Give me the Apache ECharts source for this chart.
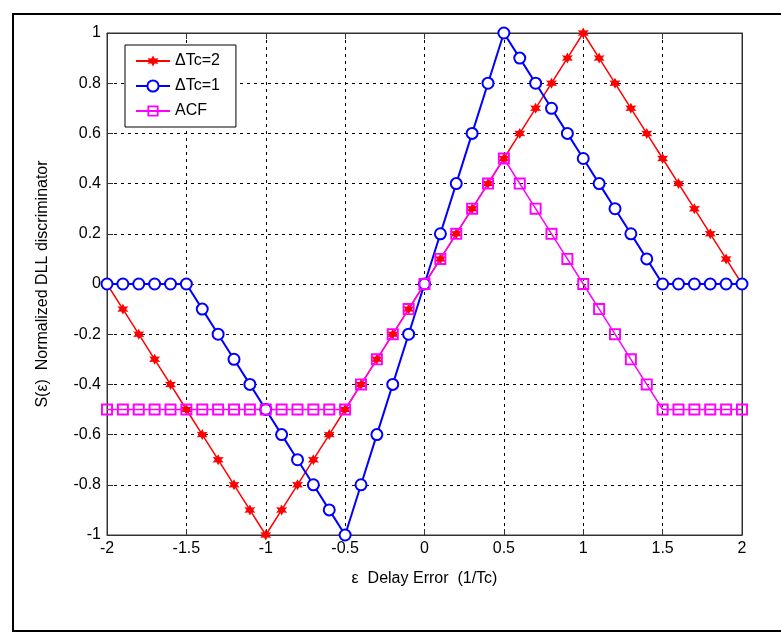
<!DOCTYPE html>
<html>
<head>
<meta charset="utf-8">
<script src="https://cdn.jsdelivr.net/npm/echarts@6/dist/echarts.min.js"></script>
<style>
  html, body { margin: 0; padding: 0; background: #fff; }
  #chart { width: 781px; height: 632px; }
</style>
</head>
<body>
<div id="chart"></div>
<script>
// delay error (1/Tc)
const xs = [-2, -1.9, -1.8, -1.7, -1.6, -1.5, -1.4, -1.3, -1.2, -1.1, -1, -0.9, -0.8, -0.7, -0.6, -0.5, -0.4, -0.3, -0.2, -0.1,
  0, 0.1, 0.2, 0.3, 0.4, 0.5, 0.6, 0.7, 0.8, 0.9, 1, 1.1, 1.2, 1.3, 1.4, 1.5, 1.6, 1.7, 1.8, 1.9, 2]
const dtc2 = [0, -0.1, -0.2, -0.3, -0.4, -0.5, -0.6, -0.7, -0.8, -0.9, -1, -0.9, -0.8, -0.7, -0.6, -0.5, -0.4, -0.3, -0.2, -0.1,
  0, 0.1, 0.2, 0.3, 0.4, 0.5, 0.6, 0.7, 0.8, 0.9, 1, 0.9, 0.8, 0.7, 0.6, 0.5, 0.4, 0.3, 0.2, 0.1, 0]
const dtc1 = [0, 0, 0, 0, 0, 0, -0.1, -0.2, -0.3, -0.4, -0.5, -0.6, -0.7, -0.8, -0.9, -1, -0.8, -0.6, -0.4, -0.2,
  0, 0.2, 0.4, 0.6, 0.8, 1, 0.9, 0.8, 0.7, 0.6, 0.5, 0.4, 0.3, 0.2, 0.1, 0, 0, 0, 0, 0, 0]
const acf = [-0.5, -0.5, -0.5, -0.5, -0.5, -0.5, -0.5, -0.5, -0.5, -0.5, -0.5, -0.5, -0.5, -0.5, -0.5, -0.5, -0.4, -0.3, -0.2, -0.1,
  0, 0.1, 0.2, 0.3, 0.4, 0.5, 0.4, 0.3, 0.2, 0.1, 0, -0.1, -0.2, -0.3, -0.4, -0.5, -0.5, -0.5, -0.5, -0.5, -0.5]
const seriesNames = ['\u0394Tc=2', '\u0394Tc=1', 'ACF']

const font = 'Liberation Sans, Arial, sans-serif'
const star = 'path://M0,-10 L2.6,-4.5 L8.7,-5 L5.2,0 L8.7,5 L2.6,4.5 L0,10 L-2.6,4.5 L-8.7,5 L-5.2,0 L-8.7,-5 L-2.6,-4.5 Z'
// hollow square (see-through centre)
const square = 'path://M0,0 L10,0 L10,10 L0,10 Z M1.6,1.6 L1.6,8.4 L8.4,8.4 L8.4,1.6 Z'

function pairs(ys) {
  return xs.map((x, i) => [x, ys[i]])
}

let chart = echarts.init(document.getElementById('chart'))
chart.setOption({
  animation: false,
  backgroundColor: '#fff',
  textStyle: { fontFamily: font },
  graphic: [{
    type: 'rect',
    shape: { x: 13, y: 14, width: 800, height: 617 },
    style: { fill: 'none', stroke: '#000', lineWidth: 2 },
    silent: true
  }],
  grid: {
    left: 107, right: 39, top: 33, bottom: 97,
    show: true, borderColor: '#333', borderWidth: 1
  },
  legend: {
    orient: 'vertical',
    left: 125, top: 45,
    padding: [8, 16, 8, 10],
    itemWidth: 34, itemHeight: 14, itemGap: 9,
    backgroundColor: '#fff',
    borderColor: '#000', borderWidth: 1,
    textStyle: { fontSize: 16, color: '#000', fontFamily: font },
    data: seriesNames
  },
  xAxis: [{
    type: 'value', min: -2, max: 2, interval: 0.5,
    name: '\u03b5  Delay Error  (1/Tc)',
    nameLocation: 'middle', nameGap: 36,
    nameTextStyle: { fontSize: 16, color: '#000' },
    axisLine: { onZero: false, lineStyle: { color: '#333' } },
    axisTick: { inside: true, length: 6, lineStyle: { color: '#333' } },
    axisLabel: { fontSize: 16, color: '#000', margin: 6 },
    splitLine: { show: true, lineStyle: { color: '#000', type: [3, 4], width: 1 } }
  }, {
    type: 'value', min: -2, max: 2, interval: 0.5, position: 'top',
    axisLine: { onZero: false, lineStyle: { color: '#333' } },
    axisTick: { inside: true, length: 6, lineStyle: { color: '#333' } },
    axisLabel: { show: false }, splitLine: { show: false }
  }],
  yAxis: [{
    type: 'value', min: -1, max: 1, interval: 0.2,
    name: 'S(\u03b5)  Normalized DLL discriminator',
    nameLocation: 'middle', nameGap: 56,
    nameTextStyle: { fontSize: 16, color: '#000' },
    axisLine: { show: true, onZero: false, lineStyle: { color: '#333' } },
    axisTick: { show: true, inside: true, length: 6, lineStyle: { color: '#333' } },
    axisLabel: { fontSize: 16, color: '#000', margin: 6, formatter: v => String(+v.toFixed(1)) },
    splitLine: { show: true, lineStyle: { color: '#000', type: [3, 4], width: 1 } }
  }, {
    type: 'value', min: -1, max: 1, interval: 0.2, position: 'right',
    axisLine: { show: true, onZero: false, lineStyle: { color: '#333' } },
    axisTick: { show: true, inside: true, length: 6, lineStyle: { color: '#333' } },
    axisLabel: { show: false }, splitLine: { show: false }
  }],
  series: [{
    name: seriesNames[0], type: 'line', data: pairs(dtc2),
    symbol: star, symbolSize: 11,
    itemStyle: { color: '#ff0000' },
    lineStyle: { color: '#ff0000', width: 1.5 }
  }, {
    name: seriesNames[1], type: 'line', data: pairs(dtc1),
    symbol: 'emptyCircle', symbolSize: 11,
    itemStyle: { color: '#0000ff', borderWidth: 1.5 },
    lineStyle: { color: '#0000ff', width: 2 }
  }, {
    name: seriesNames[2], type: 'line', data: pairs(acf),
    symbol: square, symbolSize: 12,
    itemStyle: { color: '#ff00ff' },
    lineStyle: { color: '#ff00ff', width: 1.5 }
  }]
})
</script>
</body>
</html>
